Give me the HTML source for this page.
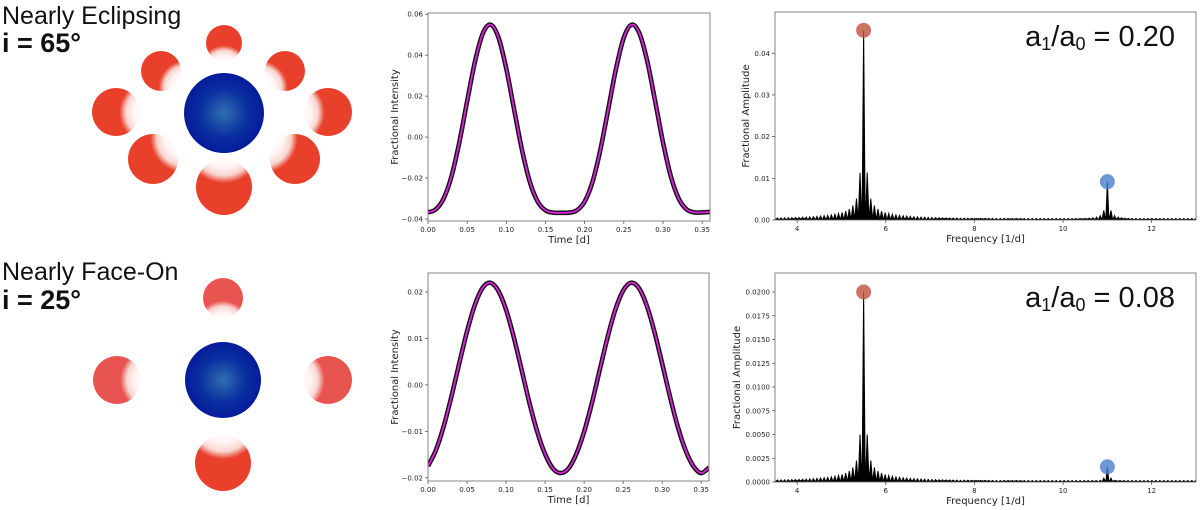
<!DOCTYPE html>
<html><head><meta charset="utf-8"><style>
html,body{margin:0;padding:0;background:#fff;width:1200px;height:510px;overflow:hidden}
svg{display:block}
.tk{font-family:"DejaVu Sans","Liberation Sans",sans-serif;font-size:7px;fill:#222}
.al{font-family:"DejaVu Sans","Liberation Sans",sans-serif;font-size:10px;fill:#222}
.ttl{font-family:"Liberation Sans",sans-serif;font-size:25px;fill:#111}
.inc{font-family:"Liberation Sans",sans-serif;font-size:27px;font-weight:bold;fill:#111}
.ratio{font-family:"Liberation Sans",sans-serif;font-size:29px;fill:#111}
</style></head><body>
<svg id="fig" width="1200" height="510" viewBox="0 0 1200 510">
<defs>
<radialGradient id="blue" cx="0.5" cy="0.5" r="0.5"><stop offset="0" stop-color="#2f6fb0"/><stop offset="0.6" stop-color="#0a2fa0"/><stop offset="1" stop-color="#051c9a"/></radialGradient>
</defs>
<g id="diagrams"></g>
<g id="charts"></g>
</svg>
<script>
// ---- light curve data (time in d, fractional intensity) ----
const lcTimes=[0,0.01,0.02,0.03,0.04,0.05,0.06,0.07,0.08,0.09,0.10,0.11,0.12,0.13,0.14,0.15,0.16,0.17,0.18,0.19,0.20,0.21,0.22,0.23,0.24,0.25,0.26,0.27,0.28,0.29,0.30,0.31,0.32,0.33,0.34,0.35,0.36];
const lcTop=[-0.0368,-0.0353,-0.0300,-0.0192,-0.0026,0.0175,0.0369,0.0506,0.0549,0.0486,0.0333,0.0134,-0.0063,-0.0219,-0.0315,-0.0358,-0.0369,-0.0370,-0.0369,-0.0358,-0.0315,-0.0219,-0.0063,0.0134,0.0333,0.0486,0.0549,0.0506,0.0369,0.0175,-0.0026,-0.0192,-0.0300,-0.0353,-0.0368,-0.0368,-0.0366];
const lcBot=[-0.0175,-0.0141,-0.0090,-0.0025,0.0046,0.0115,0.0172,0.0209,0.0220,0.0203,0.0162,0.0102,0.0032,-0.0039,-0.0101,-0.0149,-0.0180,-0.0190,-0.0180,-0.0149,-0.0101,-0.0039,0.0032,0.0102,0.0162,0.0203,0.0220,0.0209,0.0172,0.0115,0.0046,-0.0025,-0.0090,-0.0141,-0.0175,-0.0190,-0.0178];
const lcXTicks=[0,0.05,0.10,0.15,0.20,0.25,0.30,0.35];
const lcXTickLabels=["0.00","0.05","0.10","0.15","0.20","0.25","0.30","0.35"];
const lcTopYTicks=[-0.04,-0.02,0,0.02,0.04,0.06];
const lcTopYLabels=["\u22120.04","\u22120.02","0.00","0.02","0.04","0.06"];
const lcBotYTicks=[-0.02,-0.01,0,0.01,0.02];
const lcBotYLabels=["\u22120.02","\u22120.01","0.00","0.01","0.02"];
// ---- periodogram data ----
const peakFreqs=[5.5,11.0];
const peakAmpsTop=[0.0455,0.0092];
const peakAmpsBot=[0.0200,0.0016];
const pgXTicks=[4,6,8,10,12];
const pgXLabels=["4","6","8","10","12"];
const pgTopYTicks=[0,0.01,0.02,0.03,0.04];
const pgTopYLabels=["0.00","0.01","0.02","0.03","0.04"];
const pgBotYTicks=[0,0.0025,0.005,0.0075,0.01,0.0125,0.015,0.0175,0.02];
const pgBotYLabels=["0.0000","0.0025","0.0050","0.0075","0.0100","0.0125","0.0150","0.0175","0.0200"];
const ratioLabels=["0.20","0.08"];

const NS="http://www.w3.org/2000/svg";
const charts=document.getElementById('charts');
function mk(tag,attrs,parent,text){const e=document.createElementNS(NS,tag);for(const k in attrs)e.setAttribute(k,attrs[k]);if(text!==undefined)e.textContent=text;(parent||charts).appendChild(e);return e;}
function scale(d0,d1,r0,r1){return v=>r0+(v-d0)/(d1-d0)*(r1-r0);}

function axesFrame(g,L,T,R,B,xs,ys,xt,xl,yt,yl,xlab,ylab,ylabX,nm){
  const fr=mk('rect',{x:L,y:T,width:R-L,height:B-T,fill:'none',stroke:'#666','stroke-width':0.8},g);
  
  
  xt.forEach((v,i)=>{const x=xs(v);
    const t=mk('line',{x1:x,x2:x,y1:B,y2:B+3,stroke:'#444','stroke-width':0.7},g);
    
    
    const l=mk('text',{x:x,y:B+11,'text-anchor':'middle',class:'tk'},g,xl[i]);
    
    });
  yt.forEach((v,i)=>{const y=ys(v);
    const t=mk('line',{x1:L-3,x2:L,y1:y,y2:y,stroke:'#444','stroke-width':0.7},g);
    
    
    const l=mk('text',{x:L-5,y:y+2.5,'text-anchor':'end',class:'tk'},g,yl[i]);
    
    });
  const xa=mk('text',{x:(L+R)/2,y:B+22,'text-anchor':'middle',class:'al'},g,xlab);
  
  
  const cy=(T+B)/2;
  const ya=mk('text',{x:ylabX,y:cy,'text-anchor':'middle',class:'al',transform:`rotate(-90 ${ylabX} ${cy})`},g,ylab);
  
  
}

function lightCurve(nm,L,T,R,B,ymin,ymax,vals,yt,yl,ylabX){
  const g=mk('g',{});
  
  
  const xs=scale(0,0.36,L,R), ys=scale(ymin,ymax,B,T);
  const cid=nm+'-clip';
  const cp=mk('clipPath',{id:cid},g); mk('rect',{x:L,y:T,width:R-L,height:B-T},cp);
  const P=lcTimes.map((t,i)=>[xs(t),ys(vals[i])]);
  let d=`M${P[0][0]},${P[0][1]}`;
  for(let i=0;i<P.length-1;i++){const p0=P[Math.max(0,i-1)],p1=P[i],p2=P[i+1],p3=P[Math.min(P.length-1,i+2)];
    d+=` C${p1[0]+(p2[0]-p0[0])/6},${p1[1]+(p2[1]-p0[1])/6} ${p2[0]-(p3[0]-p1[0])/6},${p2[1]-(p3[1]-p1[1])/6} ${p2[0]},${p2[1]}`;}
  const dots=mk('path',{d:d,fill:'none',stroke:'#111','stroke-width':4.6,'clip-path':`url(#${cid})`},g);
  
  
  const fit=mk('path',{d:d,fill:'none',stroke:'#e020e0','stroke-width':1.8,'clip-path':`url(#${cid})`},g);
  
  
  axesFrame(g,L,T,R,B,xs,ys,lcXTicks,lcXTickLabels,yt,yl,'Time [d]','Fractional Intensity',ylabX,nm);
}

function periodogram(nm,L,T,R,B,ymax,amps,yt,yl,ratio,ylabX){
  const g=mk('g',{});
  
  
  const xs=scale(3.5,13,L,R), ys=scale(0,ymax,B,T);
  const cid=nm+'-clip';
  const cp=mk('clipPath',{id:cid},g); mk('rect',{x:L,y:T,width:R-L,height:B-T},cp);
  const sp=0.09;
  let d='';
  for(let f=3.5;f<13;f+=sp){d+=`M${xs(f)},${B} L${xs(f+sp/2)},${ys(ymax*0.007)} L${xs(f+sp)},${B} `;}
  peakFreqs.forEach((pf,j)=>{const A=amps[j];
    for(let k=1;k<45;k++){
      const df=k*sp*0.9;
      const h=A*(k===1?0.25:Math.min(0.25,0.25*Math.pow(0.07/df,0.95)));
      [-1,1].forEach(s=>{const f=pf+s*df;
        d+=`M${xs(f-sp*0.45)},${B} L${xs(f)},${ys(h)} L${xs(f+sp*0.45)},${B} `;});
    }
    d+=`M${xs(pf-0.035)},${B} L${xs(pf)},${ys(A)} L${xs(pf+0.035)},${B} `;
  });
  const sp1=mk('path',{d:d,fill:'#000',stroke:'#000','stroke-width':1,'clip-path':`url(#${cid})`},g);
  
  
  const cols=['#c0503c','#4a7ec8'];
  peakFreqs.forEach((pf,j)=>{
    const c=mk('circle',{cx:xs(pf),cy:ys(amps[j]),r:7.5,fill:cols[j],'fill-opacity':0.8},g);
    
    
  });
  axesFrame(g,L,T,R,B,xs,ys,pgXTicks,pgXLabels,yt,yl,'Frequency [1/d]','Fractional Amplitude',ylabX,nm);
  const rt=mk('text',{x:1175,y:T+34,'text-anchor':'end',class:'ratio'},g);
  
  
  rt.innerHTML=`a<tspan font-size="18" dy="4">1</tspan><tspan dy="-4">/a</tspan><tspan font-size="18" dy="4">0</tspan><tspan dy="-4"> = ${ratio}</tspan>`;
}

lightCurve('top-light-curve',428,13,710,221,-0.041,0.0606,lcTop,lcTopYTicks,lcTopYLabels,398);
lightCurve('bottom-light-curve',428,273,709,481,-0.0207,0.0241,lcBot,lcBotYTicks,lcBotYLabels,398);
periodogram('top-periodogram',775,12,1196,220,0.0499,peakAmpsTop,pgTopYTicks,pgTopYLabels,ratioLabels[0],749);
periodogram('bottom-periodogram',775,273,1196,482,0.022,peakAmpsBot,pgBotYTicks,pgBotYLabels,ratioLabels[1],740);

// ---- diagrams ----
const dg=document.getElementById('diagrams');
let gid=0;
function star(cx,cy,r,bcx,bcy,col,nm){
  const id='g'+(gid++);
  const dx=bcx-cx,dy=bcy-cy,len=Math.hypot(dx,dy)||1;
  const ux=dx/len,uy=dy/len;
  const fx=0.5+ux*0.75, fy=0.5+uy*0.75;
  const rg=mk('radialGradient',{id:id,cx:fx,cy:fy,r:0.85},dg);
  mk('stop',{offset:0,'stop-color':'#ffffff'},rg);
  mk('stop',{offset:0.45,'stop-color':'#fff6f5'},rg);
  mk('stop',{offset:0.64,'stop-color':'#f9d6d1'},rg);
  mk('stop',{offset:0.8,'stop-color':col},rg);
  mk('stop',{offset:1,'stop-color':col},rg);
  const c=mk('circle',{cx:cx,cy:cy,r:r,fill:`url(#${id})`},dg);
  
  
}
function label(x,y,cls,txt,nm){const t=mk('text',{x:x,y:y,class:cls},dg,txt);}
label(2,24,'ttl','Nearly Eclipsing','top-scenario-title');
label(2,52,'inc','i = 65°','top-inclination-label');
label(2,280,'ttl','Nearly Face-On','bottom-scenario-title');
label(2,309,'inc','i = 25°','bottom-inclination-label');
const R1='#e8402a', R2='#e85550';
[[224,43,18],[161,71,20],[285,71,20],[116,112,24],[328,112,24],[153,159,25],[295,159,25],[224,187,28]].forEach(s=>star(s[0],s[1],s[2],224,113,R1,'companion-star-top'));
const b1=mk('circle',{cx:224,cy:113,r:40,fill:'url(#blue)'},dg);


[[223,298,20,R2],[117,380,24,R2],[328,380,24,R2],[223,463,28,R1]].forEach(s=>star(s[0],s[1],s[2],223,380,s[3],'companion-star-bottom'));
const b2=mk('circle',{cx:223,cy:380,r:38,fill:'url(#blue)'},dg);


</script>
</body></html>
